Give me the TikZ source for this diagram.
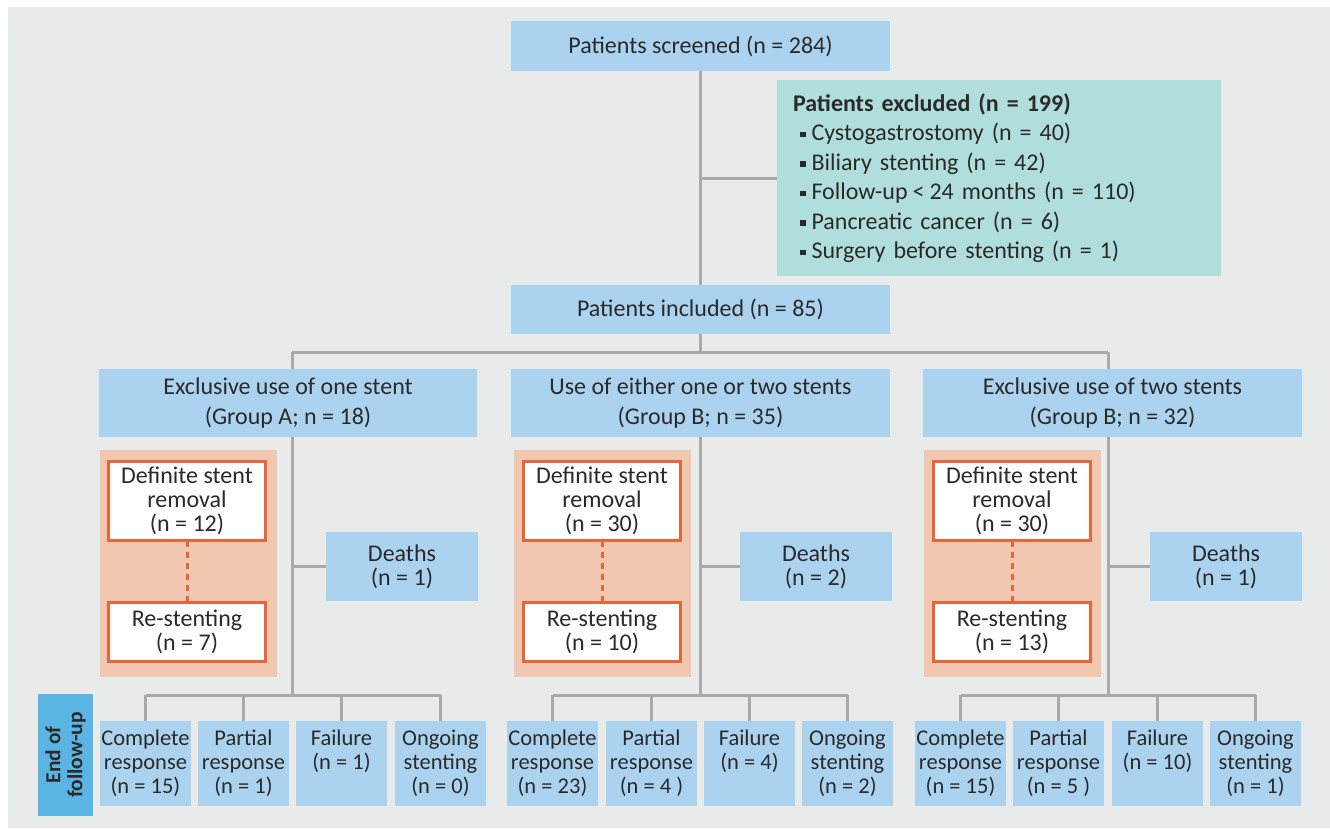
\documentclass[tikz,border=0pt]{standalone}
\usepackage{fontspec}
\setmainfont{Carlito}
\definecolor{bggray}{HTML}{E9EBEA}
\definecolor{boxblue}{HTML}{ABD3F0}
\definecolor{teal}{HTML}{B0DEDC}
\definecolor{salmon}{HTML}{F2C7B0}
\definecolor{orng}{HTML}{E3673A}
\definecolor{linegray}{HTML}{A7A9AB}
\definecolor{tabblue}{HTML}{5AB5E5}
\definecolor{txt}{HTML}{2B2A29}
\newcommand{\bul}{\raisebox{3.5pt}{\rule{5.5pt}{5.5pt}}\hspace{6pt}}
\tikzset{
  base/.style={inner sep=0pt, outer sep=0pt, text=txt, align=center, font=\fontsize{24}{24}\selectfont},
  bbox/.style={base, fill=boxblue},
  bigbox/.style={bbox, font=\fontsize{24}{30}\selectfont},
  obox/.style={base, fill=white, draw=orng, line width=3pt},
  salbox/.style={base, fill=salmon},
  outbox/.style={bbox, minimum width=91pt, minimum height=85pt, font=\fontsize{22.5}{24}\selectfont},
  conn/.style={draw=linegray, line width=3pt},
  dashline/.style={draw=orng, line width=3pt, dash pattern=on 6pt off 5pt},
}
\begin{document}
\begin{tikzpicture}[x=1pt,y=-1pt]
\useasboundingbox (0,0) rectangle (1330,828);
\fill[white] (0,0) rectangle (1330,828);
\fill[bggray] (8,7) rectangle (1330,828);

% top
\node[bbox, minimum width=379pt, minimum height=50pt] (screened) at (700.5,46) {Patients screened (n = 284)};
\node[base, fill=teal, anchor=north west, minimum width=444pt, minimum height=196pt, text width=412pt, inner xsep=16pt, align=left, font=\fontsize{24}{29.5}\selectfont] (excluded) at (777,80)
 {\textbf{Patients excluded (n = 199)}\\
 \hspace*{7pt}\bul Cystogastrostomy (n = 40)\\
 \hspace*{7pt}\bul Biliary stenting (n = 42)\\
 \hspace*{7pt}\bul Follow-up\hspace{5pt}<\hspace{5pt}24 months (n = 110)\\
 \hspace*{7pt}\bul Pancreatic cancer (n = 6)\\
 \hspace*{7pt}\bul Surgery before stenting (n = 1)};
\node[bbox, minimum width=379pt, minimum height=49pt] (included) at (700.5,309.5) {Patients included (n = 85)};

% groups
\node[bigbox, minimum width=378pt, minimum height=68pt] (grpA) at (288,403) {Exclusive use of one stent\\(Group A; n = 18)};
\node[bigbox, minimum width=379pt, minimum height=68pt] (grpB) at (700.5,403) {Use of either one or two stents\\(Group B; n = 35)};
\node[bigbox, minimum width=379pt, minimum height=68pt] (grpC) at (1112.5,403) {Exclusive use of two stents\\(Group B; n = 32)};

% salmon panels
\node[salbox, minimum width=177pt, minimum height=227pt] (salA) at (188.5,563.5) {};
\node[salbox, minimum width=177pt, minimum height=227pt] (salB) at (602.5,563.5) {};
\node[salbox, minimum width=177pt, minimum height=227pt] (salC) at (1012.5,563.5) {};

\node[obox, minimum width=157pt, minimum height=79pt] (defA) at (187,501) {Definite stent\\removal\\(n = 12)};
\node[obox, minimum width=157pt, minimum height=79pt] (defB) at (602,501) {Definite stent\\removal\\(n = 30)};
\node[obox, minimum width=157pt, minimum height=79pt] (defC) at (1012,501) {Definite stent\\removal\\(n = 30)};
\node[obox, minimum width=157pt, minimum height=59pt] (reA) at (187,632) {Re-stenting\\(n = 7)};
\node[obox, minimum width=157pt, minimum height=59pt] (reB) at (602,632) {Re-stenting\\(n = 10)};
\node[obox, minimum width=157pt, minimum height=59pt] (reC) at (1012,632) {Re-stenting\\(n = 13)};

\node[bbox, minimum width=152pt, minimum height=69pt] (deathA) at (402,566.5) {Deaths\\(n = 1)};
\node[bbox, minimum width=152pt, minimum height=69pt] (deathB) at (816,566.5) {Deaths\\(n = 2)};
\node[bbox, minimum width=152pt, minimum height=69pt] (deathC) at (1226,566.5) {Deaths\\(n = 1)};

% outcomes
\node[outbox] (oA1) at (145.5,763.5) {Complete\\response\\(n = 15)};
\node[outbox] (oA2) at (243.5,763.5) {Partial\\response\\(n = 1)};
\node[outbox] (oA3) at (341.5,763.5) {Failure\\(n = 1)\\\phantom{(n = 1)}};
\node[outbox] (oA4) at (440.5,763.5) {Ongoing\\stenting\\(n = 0)};
\node[outbox] (oB1) at (552.5,763.5) {Complete\\response\\(n = 23)};
\node[outbox] (oB2) at (651.5,763.5) {Partial\\response\\(n = 4 )};
\node[outbox] (oB3) at (749.5,763.5) {Failure\\(n = 4)\\\phantom{(n = 1)}};
\node[outbox] (oB4) at (847.5,763.5) {Ongoing\\stenting\\(n = 2)};
\node[outbox] (oC1) at (960.5,763.5) {Complete\\response\\(n = 15)};
\node[outbox] (oC2) at (1058.5,763.5) {Partial\\response\\(n = 5 )};
\node[outbox] (oC3) at (1157.5,763.5) {Failure\\(n = 10)\\\phantom{(n = 1)}};
\node[outbox] (oC4) at (1255.5,763.5) {Ongoing\\stenting\\(n = 1)};

\node[base, fill=tabblue, minimum width=55pt, minimum height=122pt] (endtab) at (65.5,755) {};
\node[base, rotate=90, font=\fontsize{21.5}{22}\selectfont\bfseries] (endtxt) at (endtab.center) {End of\\follow-up};

% connectors
\coordinate (jA) at (292,352);
\coordinate (jB) at (700.5,352);
\coordinate (jC) at (1108,352);
\coordinate (kA) at (292,695);
\coordinate (kB) at (700.5,695);
\coordinate (kC) at (1108,695);

\draw[conn] (screened.south) -- (included.north);
\draw[conn] (screened.south |- excluded.west) -- (excluded.west);
\draw[conn] (included.south) -- (jB);
\draw[conn] (jA) -- (jC);
\draw[conn] (jA) -- (jA |- grpA.north);
\draw[conn] (jC) -- (jC |- grpC.north);

\draw[conn] (jA |- grpA.south) -- (kA);
\draw[conn] (jB |- grpB.south) -- (kB);
\draw[conn] (jC |- grpC.south) -- (kC);

\draw[conn] (jA |- deathA.west) -- (deathA.west);
\draw[conn] (jB |- deathB.west) -- (deathB.west);
\draw[conn] (jC |- deathC.west) -- (deathC.west);

\draw[dashline] (defA.south) -- (reA.north);
\draw[dashline] (defB.south) -- (reB.north);
\draw[dashline] (defC.south) -- (reC.north);

\draw[conn] (oA1.north |- kA) -- (oA4.north |- kA);
\draw[conn] (oB1.north |- kB) -- (oB4.north |- kB);
\draw[conn] (oC1.north |- kC) -- (oC4.north |- kC);
\foreach \o in {oA1,oA2,oA3,oA4,oB1,oB2,oB3,oB4,oC1,oC2,oC3,oC4}{
  \draw[conn] (\o.north |- kA) -- (\o.north);
}
\end{tikzpicture}
\end{document}
